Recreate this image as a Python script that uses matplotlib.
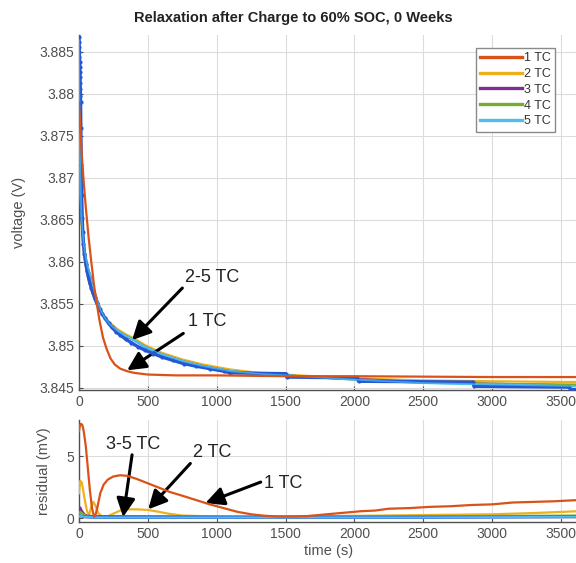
import numpy as np
import matplotlib
matplotlib.use("Agg")
import matplotlib.pyplot as plt

plt.rcParams['font.family'] = ['Liberation Sans', 'DejaVu Sans']

# ---- relaxation voltage, model fits (V) ----
t_1tc = [0, 10, 20, 35, 50, 70, 90, 110, 130, 150, 175, 200, 230, 260, 300, 350,
         400, 500, 700, 1000, 1500, 2000, 3000, 3630]
v_1tc = [3.8790, 3.8760, 3.8730, 3.8695, 3.8665, 3.8630, 3.8600, 3.8572, 3.8550,
         3.8530, 3.8510, 3.8497, 3.8485, 3.8478, 3.8473, 3.8470, 3.8468, 3.8466,
         3.8465, 3.8465, 3.8464, 3.8464, 3.8463, 3.8463]

t_fit = [0, 3, 6, 10, 15, 20, 30, 40, 55, 70, 90, 110, 135, 160, 190, 230, 280,
         340, 400, 480, 600, 750, 900, 1100, 1300, 1500, 1800, 2100, 2500, 3000, 3630]
v_2tc = [3.8862, 3.8798, 3.8750, 3.8703, 3.8668, 3.8643, 3.8620, 3.8605, 3.8590,
         3.8578, 3.8567, 3.8558, 3.8549, 3.8541, 3.8534, 3.8527, 3.8520, 3.8514,
         3.8509, 3.8501, 3.8492, 3.8484, 3.8478, 3.8472, 3.8468, 3.8466, 3.8463,
         3.8461, 3.8459, 3.8458, 3.8457]
v_3tc = [3.8863, 3.8802, 3.8756, 3.8710, 3.8675, 3.8650, 3.8628, 3.8615, 3.8600,
         3.8590, 3.8580, 3.8566, 3.8553, 3.8542, 3.8533, 3.8525, 3.8518, 3.8512,
         3.8507, 3.8499, 3.8490, 3.8482, 3.8476, 3.8470, 3.8467, 3.8465, 3.8462,
         3.8460, 3.8457, 3.8455, 3.8453]
v_4tc = [3.8863, 3.8801, 3.8755, 3.8709, 3.8674, 3.8649, 3.8627, 3.8614, 3.8599,
         3.8589, 3.8579, 3.8566, 3.8553, 3.8542, 3.8533, 3.8525, 3.8518, 3.8512,
         3.8507, 3.8499, 3.8490, 3.8482, 3.8476, 3.8470, 3.8467, 3.8465, 3.8462,
         3.8459, 3.8457, 3.8455, 3.8454]
v_5tc = [3.8864, 3.8803, 3.8757, 3.8711, 3.8676, 3.8651, 3.8629, 3.8615, 3.8600,
         3.8590, 3.8580, 3.8566, 3.8553, 3.8542, 3.8533, 3.8525, 3.8518, 3.8512,
         3.8507, 3.8499, 3.8490, 3.8482, 3.8476, 3.8470, 3.8467, 3.8465, 3.8462,
         3.8459, 3.8456, 3.8454, 3.8452]

# ---- measured relaxation (V) ----
t_meas = [0, 1, 2, 3, 4, 5, 6, 7, 8, 9, 10, 11, 12, 14, 17, 20, 24, 28, 33, 40,
          50, 60, 70, 80, 90, 100, 115, 130, 150, 170, 190, 215, 240, 270, 300,
          340, 380, 430, 480, 540, 600, 680, 760, 850, 950, 1050, 1100, 1500,
          1510, 2020, 2030, 2860, 2870, 3560, 3570, 3630]
v_meas = [3.8868, 3.8862, 3.8856, 3.8850, 3.8844, 3.8838, 3.8832, 3.8826, 3.8820,
          3.8813, 3.8806, 3.8798, 3.8790, 3.8760, 3.8715, 3.8680, 3.8652, 3.8636,
          3.8622, 3.8610, 3.8598, 3.8589, 3.8581, 3.8575, 3.8569, 3.8564, 3.8557,
          3.8551, 3.8544, 3.8538, 3.8533, 3.8527, 3.8522, 3.8517, 3.8513, 3.8508,
          3.8504, 3.8499, 3.8495, 3.8491, 3.8487, 3.8483, 3.8479, 3.8476, 3.8473,
          3.8470, 3.8468, 3.8467, 3.8463, 3.8462, 3.8458, 3.8457, 3.8452, 3.8451,
          3.8448, 3.8448]

# ---- residuals (mV) ----
t_res1 = [0, 8, 15, 25, 35, 50, 65, 80, 95, 110, 120, 135, 155, 180, 210, 250, 300,
          350, 420, 500, 580, 660, 750, 850, 950, 1050, 1150, 1250, 1350, 1450,
          1550, 1650, 1750, 1850, 1950, 2050, 2150, 2250, 2400, 2550, 2700, 2850,
          3000, 3150, 3300, 3450, 3630]
r_1tc = [7.0, 7.5, 7.6, 7.5, 7.0, 5.8, 4.0, 2.2, 0.8, 0.1, 0.2, 0.9, 2.0, 2.7, 3.1,
         3.35, 3.45, 3.4, 3.15, 2.8, 2.45, 2.1, 1.8, 1.45, 1.1, 0.8, 0.5, 0.3, 0.18,
         0.12, 0.12, 0.15, 0.25, 0.35, 0.45, 0.55, 0.6, 0.75, 0.8, 0.9, 0.95, 1.05,
         1.1, 1.25, 1.3, 1.35, 1.45]

t_res2 = [0, 10, 20, 30, 45, 60, 75, 90, 105, 120, 140, 170, 200, 250, 300, 350,
          420, 500, 580, 650, 750, 900, 1100, 1400, 1800, 2200, 2600, 3000, 3300, 3630]
r_2tc = [2.0, 3.0, 2.9, 2.3, 1.3, 0.5, 0.3, 0.9, 1.3, 1.0, 0.4, 0.1, 0.1, 0.35, 0.6,
         0.7, 0.7, 0.65, 0.5, 0.35, 0.2, 0.15, 0.1, 0.1, 0.15, 0.2, 0.25, 0.3, 0.4, 0.55]

t_res = [0, 10, 20, 40, 60, 100, 200, 400, 800, 1500, 2500, 3630]
r_3tc = [0.5, 0.85, 0.6, 0.3, 0.2, 0.15, 0.15, 0.15, 0.12, 0.1, 0.12, 0.15]
r_4tc = [0.3, 0.5, 0.4, 0.25, 0.15, 0.1, 0.1, 0.12, 0.1, 0.1, 0.12, 0.2]
r_5tc = [0.1, 0.2, 0.15, 0.1, 0.08, 0.06, 0.05, 0.05, 0.05, 0.05, 0.05, 0.1]

labels = ['1 TC', '2 TC', '3 TC', '4 TC', '5 TC']
colors = ['#D95319', '#EDB120', '#7E2F8E', '#77AC30', '#4DBEEE']
meas_color = '#2456d6'
grey = '#505050'

fig = plt.figure(figsize=(5.76, 5.63), dpi=100)
ax1 = fig.add_axes([0.137, 0.3064, 0.868, 0.6311])
ax2 = fig.add_axes([0.137, 0.0733, 0.868, 0.1806])

# top panel: voltage
for t, v, c, lab in [(t_fit, v_2tc, colors[1], labels[1]),
                     (t_fit, v_3tc, colors[2], labels[2]),
                     (t_fit, v_4tc, colors[3], labels[3]),
                     (t_fit, v_5tc, colors[4], labels[4])]:
    ax1.plot(t, v, color=c, lw=1.6, label=lab, zorder=3)
ax1.plot(t_meas, v_meas, color=meas_color, lw=2.4, marker='.', ms=4,
         zorder=4)
ax1.plot(t_fit, v_5tc, color=colors[4], lw=1.2, alpha=0.7, zorder=5)
l1, = ax1.plot(t_1tc, v_1tc, color=colors[0], lw=1.6, label=labels[0], zorder=6)

# bottom panel: residuals
ax2.plot(t_res2, r_2tc, color=colors[1], lw=1.6, zorder=3)
ax2.plot(t_res, r_3tc, color=colors[2], lw=1.6, zorder=3)
ax2.plot(t_res, r_4tc, color=colors[3], lw=1.6, zorder=3)
ax2.plot(t_res, r_5tc, color=meas_color, lw=2.0, zorder=4)
ax2.plot(t_res, r_5tc, color=colors[4], lw=1.4, zorder=5)
ax2.plot(t_res1, r_1tc, color=colors[0], lw=1.6, zorder=6)

for ax in (ax1, ax2):
    ax.set_xlim(0, 3630)
    ax.set_xticks(np.arange(0, 3501, 500))
    ax.grid(True, color='#dcdcdc', lw=0.8)
    ax.set_axisbelow(True)
    for s in ('top', 'right'):
        ax.spines[s].set_visible(False)
    for s in ('left', 'bottom'):
        ax.spines[s].set_color(grey)
        ax.spines[s].set_linewidth(1.0)
    ax.tick_params(direction='in', length=3, color=grey, labelcolor=grey,
                   labelsize=10)

ax1.set_ylim(3.8447, 3.887)
ax1.set_yticks([3.845, 3.85, 3.855, 3.86, 3.865, 3.87, 3.875, 3.88, 3.885])
ax1.set_yticklabels(['3.845', '3.85', '3.855', '3.86', '3.865', '3.87',
                     '3.875', '3.88', '3.885'])
ax1.set_ylabel('voltage (V)', color=grey, fontsize=10.5)
ax1.yaxis.set_label_coords(-0.105, 0.5)

ax2.set_ylim(-0.3, 7.9)
ax2.set_yticks([0, 5])
ax2.set_ylabel('residual (mV)', color=grey, fontsize=10.5)
ax2.yaxis.set_label_coords(-0.055, 0.5)
ax2.set_xlabel('time (s)', color=grey, fontsize=10.5)
ax2.xaxis.set_label_coords(0.5, -0.22)

fig.text(0.51, 0.968, 'Relaxation after Charge to 60% SOC, 0 Weeks',
         ha='center', va='center', fontsize=10.5, fontweight='bold',
         color='#222222')

handles, labs = ax1.get_legend_handles_labels()
order = [labs.index(l) for l in labels]
leg = ax1.legend([handles[i] for i in order], [labs[i] for i in order],
                 loc='upper right', bbox_to_anchor=(0.952, 0.964),
                 borderaxespad=0, fontsize=9, handlelength=3.4,
                 handletextpad=0.1, labelspacing=0.3, fancybox=False,
                 framealpha=1, edgecolor='#8a8a8a', borderpad=0.35)
leg.get_frame().set_linewidth(1.0)
for h in leg.get_lines():
    h.set_linewidth(2.4)
for txt in leg.get_texts():
    txt.set_color('#333333')

arrow = dict(arrowstyle='-|>,head_length=0.8,head_width=0.4', lw=2.2,
             color='black', mutation_scale=14, shrinkA=0, shrinkB=0)

# top panel annotations
ax1.text(773, 3.8581, '2-5 TC', fontsize=13, color='#222222', va='center')
ax1.annotate('', xy=(386, 3.8507), xytext=(751, 3.8569), arrowprops=arrow)
ax1.text(795, 3.8529, '1 TC', fontsize=13, color='#222222', va='center')
ax1.annotate('', xy=(350, 3.8471), xytext=(758, 3.8515), arrowprops=arrow)

# bottom panel annotations
ax2.text(394, 5.9, '3-5 TC', fontsize=13, color='#222222', ha='center',
         va='center')
ax2.annotate('', xy=(321, 0.08), xytext=(386, 5.1), arrowprops=arrow)
ax2.text(831, 5.25, '2 TC', fontsize=13, color='#222222', va='center')
ax2.annotate('', xy=(503, 0.7), xytext=(809, 4.4), arrowprops=arrow)
ax2.text(1341, 2.8, '1 TC', fontsize=13, color='#222222', va='center')
ax2.annotate('', xy=(918, 1.2), xytext=(1320, 2.9), arrowprops=arrow)

fig.savefig('out.png', dpi=100)
